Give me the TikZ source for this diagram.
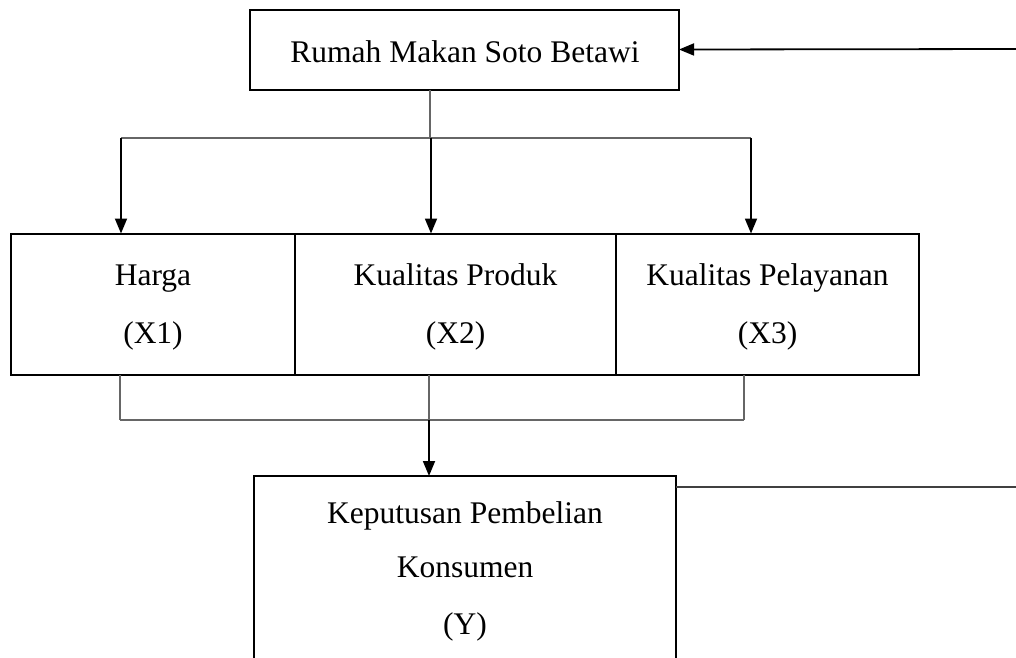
\documentclass[tikz,border=0pt]{standalone}
\usepackage{fontspec}
\setmainfont{Liberation Serif}
\usetikzlibrary{arrows.meta}
\begin{document}
\begin{tikzpicture}[x=1pt,y=-1pt,
  box/.style={draw,line width=2pt,inner sep=0pt,outer sep=0pt},
  lbl/.style={anchor=base,inner sep=0pt,font=\fontsize{31.5}{36}\selectfont},
  thinline/.style={line width=1.3pt,draw=black!60},
  arr/.style={line width=1.8pt,-{Triangle[length=15pt,width=12pt]}}]
\useasboundingbox (0,0) rectangle (1016,657);
% boxes
\node[box,minimum width=429pt,minimum height=80pt] (top) at (464.5,49.5) {};
\node[box,minimum width=284pt,minimum height=141pt] (h1) at (153,304) {};
\node[box,minimum width=321pt,minimum height=141pt] (h2) at (455.5,304) {};
\node[box,minimum width=303pt,minimum height=141pt] (h3) at (767.5,304) {};
\coordinate (ytl) at (254,476);
\coordinate (ytr) at (676,476);
\draw[line width=2pt] (254,667) -- (ytl) -- (ytr) -- (676,667);
% texts
\node[lbl] (t0) at (465,62) {Rumah Makan Soto Betawi};
\node[lbl] (t1a) at (153,285) {Harga};
\node[lbl] (t1b) at (153,343) {(X1)};
\node[lbl] (t2a) at (455.5,285) {Kualitas Produk};
\node[lbl] (t2b) at (455.5,343) {(X2)};
\node[lbl] (t3a) at (767.5,285) {Kualitas Pelayanan};
\node[lbl] (t3b) at (767.5,343) {(X3)};
\node[lbl] (tya) at (465,523) {Keputusan Pembelian};
\node[lbl] (tyb) at (465,577) {Konsumen};
\node[lbl] (tyc) at (465,634) {(Y)};
% upper connectors
\coordinate (j0) at (430,138);
\coordinate (jl) at (121,138);
\coordinate (jm) at (431,138);
\coordinate (jr) at (751,138);
\draw[thinline] (top.south -| j0) -- (j0);
\draw[thinline] (jl) -- (jr);
\draw[arr] (jl) -- (jl |- h1.north);
\draw[arr] (jm) -- (jm |- h2.north);
\draw[arr] (jr) -- (jr |- h3.north);
% lower connectors
\coordinate (kl) at (120,420);
\coordinate (km) at (429,420);
\coordinate (kr) at (744,420);
\draw[thinline] (kl |- h1.south) -- (kl);
\draw[thinline] (km |- h2.south) -- (km);
\draw[thinline] (kr |- h3.south) -- (kr);
\draw[thinline] (kl) -- (kr);
\draw[arr] (km) -- (km |- ytl);
% feedback lines
\coordinate (fb) at (1016,49);
\coordinate (fr) at (1016,487);
\draw[arr] (fb) -- (top.east);
\draw[line width=1.8pt,draw=black!75] (ytr |- fr) -- (fr);
\end{tikzpicture}
\end{document}
